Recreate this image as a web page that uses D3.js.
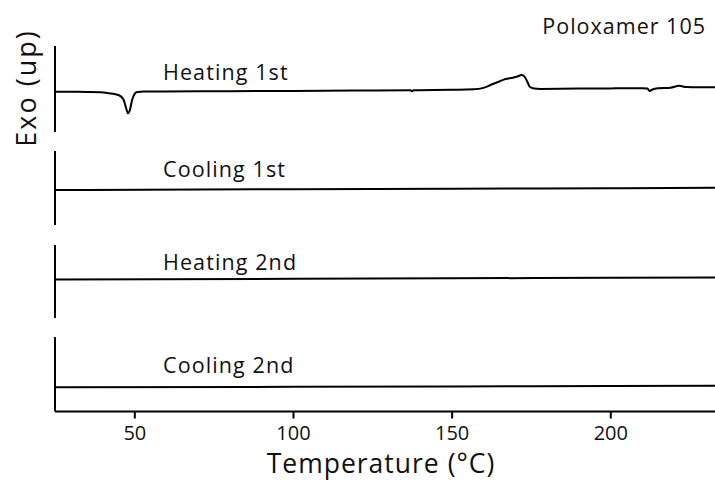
<!DOCTYPE html>
<html>
<head>
<meta charset="utf-8">
<script src="https://cdn.jsdelivr.net/npm/d3@7"></script>
<style>
  html, body { margin: 0; padding: 0; background: #fff; }
  svg text { font-family: "Open Sans", Lato, sans-serif; fill: #111; }
</style>
</head>
<body>
<svg id="chart" width="715" height="481"></svg>
<script>
// DSC thermograms of Poloxamer 105, four runs stacked
const runLabels = ["Heating 1st", "Cooling 1st", "Heating 2nd", "Cooling 2nd"];
const chartTitle = "Poloxamer 105";
const xTicks = [50, 100, 150, 200];

// temperature (°C) and heat flow (a.u., exo up) for each run
const heating1T = [25, 30, 35, 39.4, 42, 45, 46.5, 47.5, 48.0, 48.6, 49.3, 50.2, 51.0, 53, 60, 80, 100, 120, 137, 137.5, 138, 140, 150, 157, 160, 162.8, 165, 167, 169.2, 171, 172, 172.8, 173.9, 174.6, 176, 178, 190, 200, 210, 211.7, 212.4, 213.3, 215, 219, 221.7, 224, 228, 234];
const heating1Q = [0.03, 0.02, 0, -0.02, -0.12, -0.3, -0.7, -1.7, -2.13, -1.8, -0.8, -0.15, 0, 0.04, 0.05, 0.08, 0.11, 0.14, 0.17, 0.08, 0.17, 0.18, 0.22, 0.27, 0.41, 0.77, 1.05, 1.3, 1.43, 1.57, 1.7, 1.6, 1.0, 0.53, 0.35, 0.31, 0.34, 0.36, 0.37, 0.34, 0.1, 0.25, 0.37, 0.43, 0.62, 0.5, 0.47, 0.47];
const cooling1T = [25, 100, 150, 200, 234];
const cooling1Q = [0, 0.08, 0.13, 0.18, 0.23];
const heating2T = [25, 100, 150, 200, 234];
const heating2Q = [0, 0.07, 0.12, 0.17, 0.21];
const cooling2T = [25, 100, 150, 200, 234];
const cooling2Q = [0, 0.05, 0.09, 0.13, 0.16];

// heat-flow range shown in each panel
const panelYDomain = [[-4.0, 4.6], [-3.5, 3.9], [-3.85, 3.45], [-2.42, 5.03]];
const xDomain = [25, 233];

const series = [
  { label: runLabels[0], T: heating1T, Q: heating1Q },
  { label: runLabels[1], T: cooling1T, Q: cooling1Q },
  { label: runLabels[2], T: heating2T, Q: heating2Q },
  { label: runLabels[3], T: cooling2T, Q: cooling2Q }
];

// panel layout (pixel extents) and run-label baselines
const plotLeft = 55, plotRight = 715;
const panels = [[46, 132], [151, 225], [245, 318], [337, 411.5]];
const labelBaseline = [80, 177, 270, 373];

const svg = d3.select("#chart");
const x = d3.scaleLinear().domain(xDomain).range([plotLeft, plotRight]);

svg.append("defs").append("clipPath").attr("id", "plotClip")
  .append("rect").attr("x", plotLeft).attr("y", 0)
  .attr("width", plotRight - plotLeft).attr("height", 481);

series.forEach((s, i) => {
  const [top, bottom] = panels[i];
  const y = d3.scaleLinear().domain(panelYDomain[i]).range([bottom, top]);
  const g = svg.append("g");

  // left axis line of panel (no ticks)
  g.append("line")
    .attr("x1", plotLeft).attr("x2", plotLeft)
    .attr("y1", top).attr("y2", bottom)
    .attr("stroke", "#000").attr("stroke-width", 2);

  const pts = s.T.map((t, k) => [t, s.Q[k]]);
  const line = d3.line().x(d => x(d[0])).y(d => y(d[1])).curve(d3.curveMonotoneX);
  g.append("path")
    .attr("d", line(pts))
    .attr("clip-path", "url(#plotClip)")
    .attr("fill", "none")
    .attr("stroke", "#000")
    .attr("stroke-width", 2)
    .attr("stroke-linejoin", "round");

  g.append("text")
    .attr("x", 163)
    .attr("y", labelBaseline[i])
    .attr("font-size", 21.5)
    .attr("letter-spacing", 1.1)
    .text(s.label);
});

// temperature axis
const xAxis = d3.axisBottom(x).tickValues(xTicks).tickSize(7).tickPadding(7);
const axG = svg.append("g")
  .attr("transform", `translate(0,${panels[3][1]})`)
  .call(xAxis);
axG.select(".domain").attr("stroke", "#000").attr("stroke-width", 2)
  .attr("d", `M${plotLeft},0H${plotRight}`);
axG.selectAll(".tick line").attr("stroke", "#000").attr("stroke-width", 2);
axG.selectAll(".tick text")
  .attr("font-size", 20)
  .attr("font-family", "\"Open Sans\", sans-serif")
  .attr("fill", "#111");

svg.append("text")
  .attr("x", (plotLeft + plotRight) / 2 - 4)
  .attr("y", 473)
  .attr("text-anchor", "middle")
  .attr("font-size", 26.5)
  .attr("letter-spacing", 1)
  .text("Temperature (°C)");

svg.append("text")
  .attr("transform", "translate(36,88) rotate(-90)")
  .attr("text-anchor", "middle")
  .attr("font-size", 27)
  .attr("letter-spacing", 2)
  .text("Exo (up)");

svg.append("text")
  .attr("x", 706)
  .attr("y", 34)
  .attr("text-anchor", "end")
  .attr("font-size", 21.5)
  .attr("letter-spacing", 1)
  .text(chartTitle);
</script>
</body>
</html>
